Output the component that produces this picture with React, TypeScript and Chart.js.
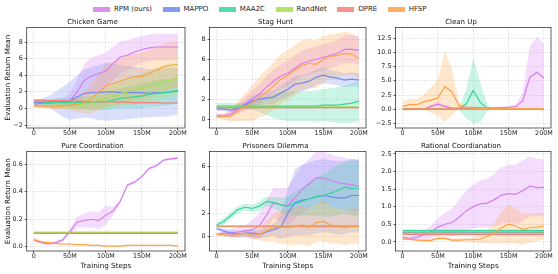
import React, { useEffect, useRef } from "react";
import { Chart, registerables } from "chart.js";
Chart.register(...registerables);

const FONT = "'DejaVu Sans', sans-serif";

// ---------- data ----------
const STEPS = [0, 10, 20, 30, 40, 50, 60, 70, 80, 90, 100, 110, 120, 130, 140, 150, 160, 170, 180, 190, 200];
const X_TICKS = [0, 50, 100, 150, 200];
const SERIES = ["RPM (ours)", "MAPPO", "MAA2C", "RandNet", "OPRE", "HFSP"];
const COLORS = ["#d67cf2", "#6f89f2", "#34d69c", "#a6df4e", "#fb7e7e", "#ffa243"];

// Chicken Game
const CG_RPM = [0.5, 0.6, 0.6, 0.7, 0.8, 0.9, 2.0, 3.4, 3.9, 4.2, 4.5, 5.4, 6.2, 6.4, 6.8, 7.1, 7.3, 7.4, 7.4, 7.4, 7.4];
const CG_RPM_SD = [0.3, 0.3, 0.3, 0.4, 0.5, 0.8, 1.5, 2.0, 2.2, 2.2, 2.2, 2.0, 1.9, 1.8, 1.7, 1.6, 1.6, 1.6, 1.6, 1.6, 1.6];
const CG_MAPPO = [0.7, 0.7, 0.8, 0.8, 0.8, 0.9, 1.4, 1.8, 1.9, 1.9, 2.0, 2.0, 1.9, 1.9, 1.9, 1.9, 1.8, 1.9, 1.9, 2.0, 2.1];
const CG_MAPPO_SD = [0.3, 0.4, 0.7, 1.2, 1.8, 2.3, 2.6, 2.9, 3.1, 3.3, 3.5, 3.4, 3.3, 3.2, 3.1, 3.0, 2.9, 2.9, 2.9, 2.9, 2.8];
const CG_MAA2C = [0.8, 0.8, 0.7, 0.7, 0.7, 0.7, 0.7, 0.7, 0.7, 0.8, 0.8, 1.0, 1.2, 1.3, 1.4, 1.5, 1.7, 1.8, 1.9, 2.0, 2.2];
const CG_MAA2C_SD = [0.3, 0.3, 0.4, 0.5, 0.5, 0.6, 0.7, 0.8, 0.9, 1.0, 1.0, 1.1, 1.2, 1.3, 1.4, 1.5, 1.5, 1.6, 1.6, 1.6, 1.6];
const CG_RANDNET = [0.3, 0.3, 0.3, 0.3, 0.3, 0.3, 0.4, 0.5, 0.7, 0.9, 1.2, 1.5, 1.8, 2.0, 2.2, 2.4, 2.7, 2.9, 3.2, 3.4, 3.6];
const CG_RANDNET_SD = [0.2, 0.2, 0.2, 0.3, 0.3, 0.4, 0.5, 0.6, 0.8, 1.0, 1.2, 1.4, 1.5, 1.6, 1.7, 1.8, 1.9, 2.0, 2.0, 2.0, 2.0];
const CG_OPRE = [1.0, 1.0, 0.95, 0.95, 0.9, 0.9, 0.85, 0.85, 0.8, 0.8, 0.8, 0.8, 0.75, 0.75, 0.7, 0.7, 0.7, 0.7, 0.65, 0.65, 0.65];
const CG_OPRE_SD = [0.1, 0.1, 0.1, 0.1, 0.1, 0.1, 0.1, 0.1, 0.1, 0.1, 0.1, 0.1, 0.1, 0.1, 0.1, 0.1, 0.1, 0.1, 0.1, 0.1, 0.1];
const CG_HFSP = [0.3, 0.25, 0.2, 0.2, 0.3, 0.4, 0.5, 0.7, 1.2, 2.0, 2.7, 3.0, 3.3, 3.6, 3.8, 3.9, 4.2, 4.6, 5.0, 5.2, 5.3];
const CG_HFSP_SD = [0.2, 0.2, 0.2, 0.3, 0.4, 0.6, 0.9, 1.3, 1.8, 2.2, 2.5, 2.6, 2.7, 2.8, 2.8, 2.8, 2.8, 2.8, 2.8, 2.8, 2.8];

// Stag Hunt
const SH_RPM = [0.4, 0.3, 0.5, 1.0, 1.5, 2.0, 2.5, 3.2, 3.8, 4.3, 4.6, 5.1, 5.6, 5.8, 6.0, 6.2, 6.4, 6.6, 7.0, 7.0, 6.9];
const SH_RPM_SD = [0.2, 0.2, 0.3, 0.5, 0.7, 0.9, 1.0, 1.1, 1.2, 1.2, 1.3, 1.3, 1.3, 1.3, 1.3, 1.3, 1.3, 1.3, 1.4, 1.4, 1.4];
const SH_MAPPO = [1.0, 1.0, 0.9, 1.1, 1.4, 1.8, 2.0, 2.1, 2.2, 2.6, 3.0, 3.5, 3.6, 3.8, 4.2, 4.4, 4.2, 4.1, 3.9, 4.0, 3.9];
const SH_MAPPO_SD = [0.2, 0.2, 0.2, 0.3, 0.4, 0.5, 0.6, 0.6, 0.7, 0.7, 0.8, 0.8, 0.8, 0.8, 0.8, 0.8, 0.7, 0.7, 0.7, 0.7, 0.7];
const SH_MAA2C = [1.3, 1.3, 1.3, 1.3, 1.3, 1.3, 1.3, 1.3, 1.3, 1.3, 1.3, 1.3, 1.3, 1.3, 1.3, 1.4, 1.4, 1.4, 1.5, 1.6, 1.8];
const SH_MAA2C_SD = [0.3, 0.3, 0.3, 0.3, 0.3, 0.4, 0.6, 0.9, 1.2, 1.4, 1.5, 1.5, 1.5, 1.5, 1.6, 1.6, 1.7, 1.8, 1.9, 2.0, 2.0];
const SH_RANDNET = [1.2, 1.2, 1.2, 1.2, 1.2, 1.2, 1.2, 1.2, 1.2, 1.2, 1.2, 1.2, 1.2, 1.2, 1.2, 1.2, 1.2, 1.2, 1.2, 1.2, 1.2];
const SH_RANDNET_SD = [0.08, 0.08, 0.08, 0.08, 0.08, 0.08, 0.08, 0.08, 0.08, 0.08, 0.08, 0.08, 0.08, 0.08, 0.08, 0.08, 0.08, 0.08, 0.08, 0.08, 0.08];
const SH_OPRE = [1.15, 1.15, 1.15, 1.15, 1.15, 1.15, 1.15, 1.15, 1.15, 1.15, 1.15, 1.15, 1.15, 1.15, 1.15, 1.15, 1.15, 1.15, 1.15, 1.15, 1.15];
const SH_OPRE_SD = [0.08, 0.08, 0.08, 0.08, 0.08, 0.08, 0.08, 0.08, 0.08, 0.08, 0.08, 0.08, 0.08, 0.08, 0.08, 0.08, 0.08, 0.08, 0.08, 0.08, 0.08];
const SH_HFSP = [0.2, 0.25, 0.3, 0.8, 1.2, 1.6, 2.2, 2.7, 3.3, 4.0, 4.4, 4.9, 5.4, 5.6, 5.5, 6.0, 6.3, 6.4, 6.6, 6.5, 6.1];
const SH_HFSP_SD = [0.1, 0.3, 0.6, 1.0, 1.4, 1.8, 2.1, 2.3, 2.4, 2.5, 2.5, 2.5, 2.5, 2.4, 2.4, 2.3, 2.2, 2.2, 2.2, 2.1, 2.0];

// Clean Up
const CU_RPM = [0, 0, 0, 0.05, 0.5, 0.9, 0.5, 0.2, 0.2, 0.25, 0.3, 0.25, 0.2, 0.25, 0.3, 0.35, 0.45, 1.5, 5.6, 6.5, 5.5];
const CU_RPM_SD = [0, 0, 0, 0.05, 0.3, 0.4, 0.3, 0.1, 0.1, 0.2, 0.2, 0.2, 0.2, 0.2, 0.2, 0.3, 0.3, 1.5, 5.5, 6.3, 6.0];
const CU_MAPPO = [0.08, 0.08, 0.08, 0.08, 0.08, 0.08, 0.08, 0.08, 0.08, 0.08, 0.08, 0.08, 0.08, 0.08, 0.08, 0.08, 0.08, 0.08, 0.08, 0.08, 0.08];
const CU_MAPPO_SD = [0.05, 0.05, 0.05, 0.05, 0.05, 0.05, 0.05, 0.05, 0.05, 0.05, 0.05, 0.05, 0.05, 0.05, 0.05, 0.05, 0.05, 0.05, 0.05, 0.05, 0.05];
const CU_MAA2C = [0.05, 0.05, 0.05, 0.05, 0.05, 0.05, 0.05, 0.05, 0.1, 0.9, 3.3, 1.2, 0.2, 0.1, 0.1, 0.1, 0.1, 0.1, 0.1, 0.1, 0.1];
const CU_MAA2C_SD = [0.02, 0.02, 0.02, 0.02, 0.02, 0.02, 0.02, 0.05, 0.2, 2.5, 5.7, 3.5, 0.5, 0.1, 0.05, 0.05, 0.05, 0.05, 0.05, 0.05, 0.05];
const CU_RANDNET = [0.1, 0.1, 0.1, 0.1, 0.1, 0.1, 0.1, 0.1, 0.1, 0.1, 0.1, 0.1, 0.1, 0.1, 0.1, 0.1, 0.1, 0.1, 0.1, 0.1, 0.1];
const CU_RANDNET_SD = [0.05, 0.05, 0.05, 0.05, 0.05, 0.05, 0.05, 0.05, 0.05, 0.05, 0.05, 0.05, 0.05, 0.05, 0.05, 0.05, 0.05, 0.05, 0.05, 0.05, 0.05];
const CU_OPRE = [0.05, 0.05, 0.05, 0.05, 0.05, 0.05, 0.05, 0.05, 0.05, 0.05, 0.05, 0.05, 0.05, 0.05, 0.05, 0.05, 0.05, 0.05, 0.05, 0.05, 0.05];
const CU_OPRE_SD = [0.05, 0.05, 0.05, 0.05, 0.05, 0.05, 0.05, 0.05, 0.05, 0.05, 0.05, 0.05, 0.05, 0.05, 0.05, 0.05, 0.05, 0.05, 0.05, 0.05, 0.05];
const CU_HFSP = [0.5, 0.8, 0.8, 1.3, 1.6, 2.0, 4.0, 3.0, 0.6, 0.3, 0.2, 0.15, 0.1, 0.1, 0.1, 0.1, 0.1, 0.1, 0.1, 0.1, 0.1];
const CU_HFSP_SD = [0.9, 1.0, 1.0, 1.4, 2.2, 3.2, 6.3, 4.0, 0.6, 0.3, 0.2, 0.15, 0.1, 0.1, 0.1, 0.1, 0.1, 0.1, 0.1, 0.1, 0.1];

// Pure Coordination
const PC_RPM = [0.05, 0.03, 0.02, 0.03, 0.05, 0.11, 0.18, 0.19, 0.2, 0.19, 0.23, 0.26, 0.33, 0.45, 0.47, 0.51, 0.57, 0.59, 0.63, 0.64, 0.645];
const PC_RPM_SD = [0.01, 0.01, 0.01, 0.01, 0.01, 0.02, 0.04, 0.05, 0.06, 0.06, 0.07, 0.03, 0.01, 0.01, 0.01, 0.01, 0.01, 0.01, 0.01, 0.01, 0.01];
const PC_MAPPO = [0.1, 0.1, 0.1, 0.1, 0.1, 0.1, 0.1, 0.1, 0.1, 0.1, 0.1, 0.1, 0.1, 0.1, 0.1, 0.1, 0.1, 0.1, 0.1, 0.1, 0.1];
const PC_MAPPO_SD = [0.005, 0.005, 0.005, 0.005, 0.005, 0.005, 0.005, 0.005, 0.005, 0.005, 0.005, 0.005, 0.005, 0.005, 0.005, 0.005, 0.005, 0.005, 0.005, 0.005, 0.005];
const PC_MAA2C = [0.1, 0.1, 0.1, 0.1, 0.1, 0.1, 0.1, 0.1, 0.1, 0.1, 0.1, 0.1, 0.1, 0.1, 0.1, 0.1, 0.1, 0.1, 0.1, 0.1, 0.1];
const PC_MAA2C_SD = [0.005, 0.005, 0.005, 0.005, 0.005, 0.005, 0.005, 0.005, 0.005, 0.005, 0.005, 0.005, 0.005, 0.005, 0.005, 0.005, 0.005, 0.005, 0.005, 0.005, 0.005];
const PC_RANDNET = [0.105, 0.105, 0.105, 0.105, 0.105, 0.105, 0.105, 0.105, 0.105, 0.105, 0.105, 0.105, 0.105, 0.105, 0.105, 0.105, 0.105, 0.105, 0.105, 0.105, 0.105];
const PC_RANDNET_SD = [0.01, 0.01, 0.01, 0.01, 0.01, 0.01, 0.01, 0.01, 0.01, 0.01, 0.01, 0.01, 0.01, 0.01, 0.01, 0.01, 0.01, 0.01, 0.01, 0.01, 0.01];
const PC_OPRE = [0.098, 0.098, 0.098, 0.098, 0.098, 0.098, 0.098, 0.098, 0.098, 0.098, 0.098, 0.098, 0.098, 0.098, 0.098, 0.098, 0.098, 0.098, 0.098, 0.098, 0.098];
const PC_OPRE_SD = [0.005, 0.005, 0.005, 0.005, 0.005, 0.005, 0.005, 0.005, 0.005, 0.005, 0.005, 0.005, 0.005, 0.005, 0.005, 0.005, 0.005, 0.005, 0.005, 0.005, 0.005];
const PC_HFSP = [0.05, 0.035, 0.03, 0.025, 0.02, 0.02, 0.015, 0.015, 0.01, 0.01, 0.005, 0.005, 0.005, 0.01, 0.01, 0.01, 0.01, 0.01, 0.01, 0.01, 0.005];
const PC_HFSP_SD = [0.012, 0.01, 0.008, 0.006, 0.005, 0.005, 0.004, 0.004, 0.004, 0.004, 0.004, 0.004, 0.004, 0.004, 0.004, 0.004, 0.004, 0.004, 0.004, 0.004, 0.004];

// Prisoners Dilemma
const PD_RPM = [0.2, 0.3, 0.3, 0.4, 0.5, 0.6, 0.9, 1.8, 2.9, 2.7, 2.6, 3.3, 4.0, 4.5, 5.0, 5.0, 4.8, 4.6, 4.5, 4.4, 4.3];
const PD_RPM_SD = [0.1, 0.2, 0.3, 0.4, 0.5, 0.8, 1.1, 1.3, 1.3, 1.4, 1.6, 1.8, 2.0, 2.1, 2.2, 2.2, 2.2, 2.2, 2.2, 2.2, 2.2];
const PD_MAPPO = [0.7, 0.5, 0.3, 0.2, 0.3, 0.3, 0.2, 0.4, 0.6, 0.8, 2.0, 2.9, 3.1, 3.2, 3.4, 3.5, 3.4, 3.3, 3.3, 3.5, 3.5];
const PD_MAPPO_SD = [0.1, 0.2, 0.3, 0.3, 0.3, 0.3, 0.3, 0.4, 0.5, 1.0, 2.0, 2.8, 3.0, 3.1, 3.1, 3.1, 3.1, 3.1, 3.1, 3.1, 3.1];
const PD_MAA2C = [1.0, 1.3, 1.8, 2.3, 2.5, 2.4, 2.6, 3.0, 2.9, 2.7, 2.6, 2.8, 3.0, 3.2, 3.4, 3.5, 3.7, 3.9, 4.2, 4.1, 4.1];
const PD_MAA2C_SD = [0.2, 0.3, 0.3, 0.3, 0.3, 0.3, 0.4, 0.4, 0.5, 0.6, 0.8, 1.0, 1.2, 1.4, 1.6, 1.8, 2.0, 2.1, 2.2, 2.3, 2.4];
const PD_RANDNET = [0.85, 0.85, 0.85, 0.85, 0.85, 0.85, 0.85, 0.85, 0.85, 0.85, 0.85, 0.85, 0.85, 0.85, 0.85, 0.85, 0.85, 0.85, 0.85, 0.85, 0.85];
const PD_RANDNET_SD = [0.05, 0.05, 0.05, 0.05, 0.05, 0.05, 0.05, 0.05, 0.05, 0.05, 0.05, 0.05, 0.05, 0.05, 0.05, 0.05, 0.05, 0.05, 0.05, 0.05, 0.05];
const PD_OPRE = [0.9, 0.9, 0.9, 0.9, 0.9, 0.9, 0.9, 0.9, 0.9, 0.9, 0.9, 0.9, 0.9, 0.9, 0.9, 0.9, 0.9, 0.9, 0.9, 0.9, 0.9];
const PD_OPRE_SD = [0.05, 0.05, 0.05, 0.05, 0.05, 0.05, 0.05, 0.05, 0.05, 0.05, 0.05, 0.05, 0.05, 0.05, 0.05, 0.05, 0.05, 0.05, 0.05, 0.05, 0.05];
const PD_HFSP = [0.2, 0.15, 0.1, 0.2, 0.3, 0.1, 0.2, 0.5, 0.8, 0.8, 0.8, 0.9, 1.0, 0.8, 1.2, 1.3, 1.0, 0.9, 0.8, 0.9, 0.9];
const PD_HFSP_SD = [0.1, 0.1, 0.2, 0.2, 0.3, 0.3, 0.5, 0.9, 1.2, 1.4, 1.5, 1.6, 1.6, 1.6, 1.6, 1.7, 1.6, 1.5, 1.5, 1.5, 1.5];

// Rational Coordianation
const RC_RPM = [0.13, 0.1, 0.12, 0.2, 0.28, 0.42, 0.5, 0.55, 0.7, 0.88, 1.0, 1.08, 1.1, 1.2, 1.33, 1.37, 1.35, 1.45, 1.58, 1.54, 1.55];
const RC_RPM_SD = [0.05, 0.05, 0.08, 0.12, 0.18, 0.25, 0.32, 0.4, 0.5, 0.58, 0.62, 0.66, 0.7, 0.75, 0.8, 0.82, 0.85, 0.87, 0.85, 0.82, 0.8];
const RC_MAPPO = [0.27, 0.27, 0.27, 0.27, 0.27, 0.27, 0.27, 0.27, 0.27, 0.27, 0.27, 0.27, 0.27, 0.27, 0.27, 0.27, 0.27, 0.27, 0.27, 0.27, 0.27];
const RC_MAPPO_SD = [0.03, 0.03, 0.03, 0.03, 0.03, 0.03, 0.03, 0.03, 0.03, 0.03, 0.03, 0.03, 0.03, 0.03, 0.03, 0.03, 0.03, 0.03, 0.03, 0.03, 0.03];
const RC_MAA2C = [0.32, 0.32, 0.32, 0.32, 0.32, 0.32, 0.32, 0.32, 0.32, 0.32, 0.32, 0.32, 0.32, 0.32, 0.32, 0.32, 0.32, 0.32, 0.32, 0.32, 0.32];
const RC_MAA2C_SD = [0.03, 0.03, 0.03, 0.03, 0.03, 0.03, 0.03, 0.03, 0.03, 0.03, 0.03, 0.03, 0.03, 0.03, 0.03, 0.03, 0.03, 0.03, 0.03, 0.03, 0.03];
const RC_RANDNET = [0.25, 0.25, 0.25, 0.25, 0.25, 0.25, 0.25, 0.25, 0.25, 0.25, 0.25, 0.25, 0.25, 0.25, 0.25, 0.25, 0.25, 0.25, 0.25, 0.25, 0.25];
const RC_RANDNET_SD = [0.03, 0.03, 0.03, 0.03, 0.03, 0.03, 0.03, 0.03, 0.03, 0.03, 0.03, 0.03, 0.03, 0.03, 0.03, 0.03, 0.03, 0.03, 0.03, 0.03, 0.03];
const RC_OPRE = [0.21, 0.21, 0.21, 0.21, 0.21, 0.21, 0.21, 0.21, 0.21, 0.21, 0.21, 0.21, 0.21, 0.21, 0.21, 0.21, 0.21, 0.21, 0.21, 0.21, 0.21];
const RC_OPRE_SD = [0.03, 0.03, 0.03, 0.03, 0.03, 0.03, 0.03, 0.03, 0.03, 0.03, 0.03, 0.03, 0.03, 0.03, 0.03, 0.03, 0.03, 0.03, 0.03, 0.03, 0.03];
const RC_HFSP = [0.08, 0.08, 0.05, 0.04, 0.04, 0.1, 0.1, 0.05, 0.05, 0.06, 0.06, 0.08, 0.15, 0.25, 0.4, 0.5, 0.45, 0.35, 0.4, 0.42, 0.45];
const RC_HFSP_SD = [0.03, 0.03, 0.03, 0.04, 0.05, 0.05, 0.05, 0.05, 0.05, 0.06, 0.08, 0.12, 0.2, 0.3, 0.45, 0.55, 0.5, 0.45, 0.42, 0.4, 0.38];

// y-axis tick values per panel
const CG_TICKS = [-2, 0, 2, 4, 6, 8];
const SH_TICKS = [0, 2, 4, 6, 8];
const CU_TICKS = [-2.5, 0, 2.5, 5, 7.5, 10, 12.5];
const PC_TICKS = [0, 0.2, 0.4, 0.6];
const PD_TICKS = [0, 2, 4, 6];
const RC_TICKS = [0, 0.5, 1, 1.5, 2, 2.5];

// ---------- panel specs ----------
type Spec = {
  title: string; yMin: number; yMax: number; ticks: number[]; dec: number;
  means: number[][]; sds: number[][];
  left: number; top: number; width: number; height: number; yW: number; xH: number; padR: number;
  yTitle: boolean; xTitle: boolean;
};

const ROW1 = { top: 18, height: 122, xH: 12 };
const ROW2 = { top: 142, height: 128, xH: 19 };
const COL1 = { left: 0, width: 195, yW: 26.7, padR: 10 };
const COL2 = { left: 185, width: 191, yW: 24.5, padR: 10 };
const COL3 = { left: 371, width: 187, yW: 24.5, padR: 7 };

const SPECS: Spec[] = [
  { title: "Chicken Game", yMin: -2.36, yMax: 9.76, ticks: CG_TICKS, dec: 0,
    means: [CG_RPM, CG_MAPPO, CG_MAA2C, CG_RANDNET, CG_OPRE, CG_HFSP],
    sds: [CG_RPM_SD, CG_MAPPO_SD, CG_MAA2C_SD, CG_RANDNET_SD, CG_OPRE_SD, CG_HFSP_SD],
    ...COL1, ...ROW1, yTitle: true, xTitle: false },
  { title: "Stag Hunt", yMin: -0.9, yMax: 9.2, ticks: SH_TICKS, dec: 0,
    means: [SH_RPM, SH_MAPPO, SH_MAA2C, SH_RANDNET, SH_OPRE, SH_HFSP],
    sds: [SH_RPM_SD, SH_MAPPO_SD, SH_MAA2C_SD, SH_RANDNET_SD, SH_OPRE_SD, SH_HFSP_SD],
    ...COL2, ...ROW1, yTitle: false, xTitle: false },
  { title: "Clean Up", yMin: -3.3, yMax: 14.4, ticks: CU_TICKS, dec: 1,
    means: [CU_RPM, CU_MAPPO, CU_MAA2C, CU_RANDNET, CU_OPRE, CU_HFSP],
    sds: [CU_RPM_SD, CU_MAPPO_SD, CU_MAA2C_SD, CU_RANDNET_SD, CU_OPRE_SD, CU_HFSP_SD],
    ...COL3, ...ROW1, yTitle: false, xTitle: false },
  { title: "Pure Coordination", yMin: -0.031, yMax: 0.694, ticks: PC_TICKS, dec: 1,
    means: [PC_RPM, PC_MAPPO, PC_MAA2C, PC_RANDNET, PC_OPRE, PC_HFSP],
    sds: [PC_RPM_SD, PC_MAPPO_SD, PC_MAA2C_SD, PC_RANDNET_SD, PC_OPRE_SD, PC_HFSP_SD],
    ...COL1, ...ROW2, yTitle: true, xTitle: true },
  { title: "Prisoners Dilemma", yMin: -1.21, yMax: 7.24, ticks: PD_TICKS, dec: 0,
    means: [PD_RPM, PD_MAPPO, PD_MAA2C, PD_RANDNET, PD_OPRE, PD_HFSP],
    sds: [PD_RPM_SD, PD_MAPPO_SD, PD_MAA2C_SD, PD_RANDNET_SD, PD_OPRE_SD, PD_HFSP_SD],
    ...COL2, ...ROW2, yTitle: false, xTitle: true },
  { title: "Rational Coordianation", yMin: -0.26, yMax: 2.57, ticks: RC_TICKS, dec: 1,
    means: [RC_RPM, RC_MAPPO, RC_MAA2C, RC_RANDNET, RC_OPRE, RC_HFSP],
    sds: [RC_RPM_SD, RC_MAPPO_SD, RC_MAA2C_SD, RC_RANDNET_SD, RC_OPRE_SD, RC_HFSP_SD],
    ...COL3, ...ROW2, yTitle: false, xTitle: true },
];

function rgba(hex: string, a: number) {
  const n = parseInt(hex.slice(1), 16);
  return `rgba(${(n >> 16) & 255},${(n >> 8) & 255},${n & 255},${a})`;
}

function fmt(v: number, dec: number) {
  const s = Math.abs(v).toFixed(dec);
  return v < 0 ? "\u2212" + s : s;
}

const framePlugin = {
  id: "frame",
  afterDraw(chart: any) {
    const { ctx, chartArea: a } = chart;
    ctx.save();
    ctx.strokeStyle = "#3a3a3a";
    ctx.lineWidth = 0.8;
    ctx.strokeRect(a.left, a.top, a.right - a.left, a.bottom - a.top);
    ctx.restore();
  },
};

function Panel({ spec }: { spec: Spec }) {
  const ref = useRef<HTMLCanvasElement>(null);
  useEffect(() => {
    const datasets: any[] = [];
    spec.means.forEach((m, i) => {
      const sd = spec.sds[i];
      datasets.push({
        data: STEPS.map((x, k) => ({ x, y: m[k] - sd[k] })),
        borderWidth: 0, borderColor: "transparent", backgroundColor: "transparent",
        pointRadius: 0, fill: false, order: 200 - i,
      });
      datasets.push({
        data: STEPS.map((x, k) => ({ x, y: m[k] + sd[k] })),
        borderWidth: 0, borderColor: "transparent", backgroundColor: rgba(COLORS[i], 0.26),
        pointRadius: 0, fill: "-1", order: 200 - i,
      });
    });
    spec.means.forEach((m, i) => {
      datasets.push({
        label: SERIES[i],
        data: STEPS.map((x, k) => ({ x, y: m[k] })),
        borderColor: COLORS[i], borderWidth: 1.2, pointRadius: 0, fill: false,
        tension: 0, order: 100 - i,
      });
    });
    const chart = new Chart(ref.current!, {
      type: "line",
      data: { datasets },
      plugins: [framePlugin],
      options: {
        animation: false,
        responsive: true,
        maintainAspectRatio: false,
        events: [],
        layout: { padding: { left: 0, right: spec.padR, top: 0, bottom: 0 } },
        plugins: {
          legend: { display: false },
          tooltip: { enabled: false },
          title: {
            display: true, text: spec.title, color: "#111",
            font: { family: FONT, size: 7, weight: "normal" }, padding: { top: 0, bottom: 1 },
          },
        },
        scales: {
          x: {
            type: "linear", min: -10, max: 210,
            afterBuildTicks: (s: any) => { s.ticks = X_TICKS.map((v) => ({ value: v })); },
            afterFit: (s: any) => { s.height = spec.xH; },
            ticks: {
              font: { family: FONT, size: 6.4 }, color: "#222", padding: 0, maxRotation: 0, autoSkip: false,
              callback: (v: any) => (Number(v) === 0 ? "0" : `${v}M`),
            },
            grid: { color: "#c4c4c4", lineWidth: 0.6, tickLength: 2, tickColor: "#333", tickWidth: 0.8 },
            border: { display: false, dash: [1.2, 1.6] },
            title: {
              display: spec.xTitle, text: "Training Steps", color: "#111",
              font: { family: FONT, size: 7.2 }, padding: { top: 0, bottom: 0 },
            },
          },
          y: {
            min: spec.yMin, max: spec.yMax,
            afterBuildTicks: (s: any) => { s.ticks = spec.ticks.map((v) => ({ value: v })); },
            afterFit: (s: any) => { s.width = spec.yW; },
            ticks: {
              font: { family: FONT, size: 6.4 }, color: "#222", padding: 2, autoSkip: false,
              callback: (v: any) => fmt(Number(v), spec.dec),
            },
            grid: { color: "#c4c4c4", lineWidth: 0.6, tickLength: 2, tickColor: "#333", tickWidth: 0.8 },
            border: { display: false, dash: [1.2, 1.6] },
            title: {
              display: spec.yTitle, text: "Evaluation Return Mean", color: "#111",
              font: { family: FONT, size: 7.2 }, padding: { top: 4, bottom: 0 },
            },
          },
        },
      } as any,
    });
    return () => chart.destroy();
  }, [spec]);
  return (
    <div style={{ position: "absolute", left: spec.left, top: spec.top, width: spec.width, height: spec.height }}>
      <canvas ref={ref} style={{ display: "block" }} />
    </div>
  );
}

function Legend() {
  return (
    <div style={{ position: "absolute", left: 93, top: 5, display: "flex", alignItems: "center",
      fontFamily: FONT, fontSize: 7, lineHeight: "9px", color: "#222", whiteSpace: "nowrap" }}>
      {SERIES.map((s, i) => (
        <div key={s} style={{ display: "flex", alignItems: "center", marginRight: 10.5 }}>
          <span style={{ display: "inline-block", width: 17, height: 4.5, background: rgba(COLORS[i], 0.85), marginRight: 4 }} />
          <span>{s}</span>
        </div>
      ))}
    </div>
  );
}

export default function App() {
  return (
    <div style={{ position: "absolute", left: 0, top: 0, width: 558, height: 274, background: "#fff", overflow: "hidden" }}>
      <Legend />
      {SPECS.map((s) => (
        <Panel key={s.title} spec={s} />
      ))}
    </div>
  );
}
